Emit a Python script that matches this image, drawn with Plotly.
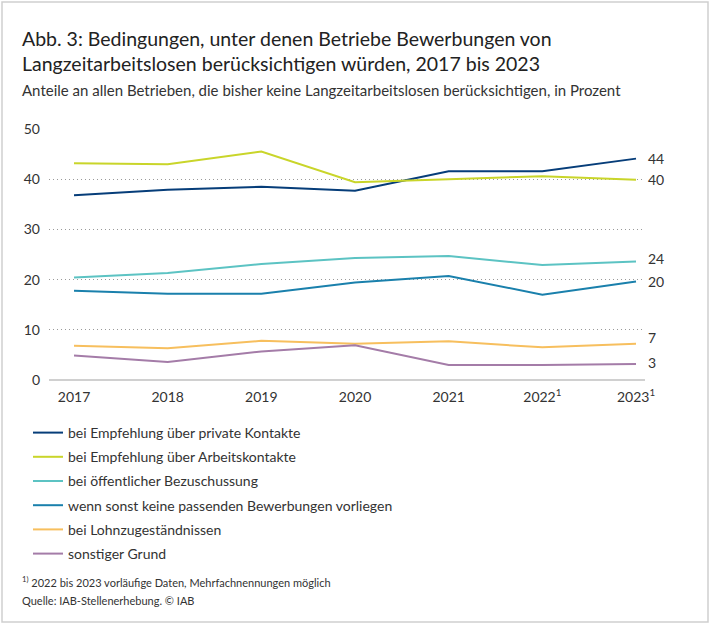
import plotly.graph_objects as go

years = ['2017', '2018', '2019', '2020', '2021', '2022', '2023']
year_labels = ['2017', '2018', '2019', '2020', '2021', '2022<sup>1</sup>', '2023<sup>1</sup>']

series_names = [
    'bei Empfehlung über private Kontakte',
    'bei Empfehlung über Arbeitskontakte',
    'bei öffentlicher Bezuschussung',
    'wenn sonst keine passenden Bewerbungen vorliegen',
    'bei Lohnzugeständnissen',
    'sonstiger Grund',
]
private_kontakte = [36.8, 37.9, 38.5, 37.7, 41.6, 41.6, 44.1]
arbeitskontakte = [43.2, 43.0, 45.5, 39.4, 40.0, 40.6, 39.9]
bezuschussung = [20.4, 21.3, 23.1, 24.3, 24.7, 22.9, 23.6]
keine_bewerbungen = [17.8, 17.2, 17.2, 19.4, 20.7, 17.0, 19.6]
lohn = [6.8, 6.3, 7.8, 7.2, 7.7, 6.5, 7.2]
sonstiger = [4.9, 3.6, 5.7, 6.9, 3.0, 3.0, 3.2]

all_series = [private_kontakte, arbeitskontakte, bezuschussung, keine_bewerbungen, lohn, sonstiger]
colors = ['#063d79', '#c9d52a', '#5cc3c3', '#1a80ac', '#f7bf5e', '#a47ca8']
# small pixel nudges for end labels so they don't collide
label_shift = [0, 0, 3, 0, 6, 1]

FONT = 'Lato, "Source Sans Pro", "Noto Sans", sans-serif'
TXT = '#333333'

W, H = 710, 625
L, R, T, B = 49, 645, 129, 380


def px_x(p):
    return (p - L) / (R - L)


def px_y(p):
    return (B - p) / (B - T)


fig = go.Figure()
for i, (name, vals) in enumerate(zip(series_names, all_series)):
    fig.add_trace(go.Scatter(
        x=years, y=vals, name=name, mode='lines',
        line=dict(color=colors[i], width=2),
        legendgroup='g%d' % i,
        hoverinfo='x+y+name'))
    # end-of-line value label (category index of last year)
    fig.add_annotation(
        x=len(years) - 1, y=vals[-1], xref='x', yref='y',
        text='%.0f' % vals[-1], showarrow=False,
        xanchor='left', xshift=10, yshift=label_shift[i],
        font=dict(family=FONT, size=14, color=TXT))

# titles
fig.add_annotation(x=px_x(20), y=px_y(25), xref='paper', yref='paper',
                   xanchor='left', yanchor='top', align='left', showarrow=False,
                   text='Abb. 3: Bedingungen, unter denen Betriebe Bewerbungen von<br>'
                        'Langzeitarbeitslosen berücksichtigen würden, 2017 bis 2023',
                   font=dict(family=FONT, size=19.5, color='#222222'))
fig.add_annotation(x=px_x(20), y=px_y(90), xref='paper', yref='paper',
                   xanchor='left', yanchor='middle', showarrow=False,
                   text='Anteile an allen Betrieben, die bisher keine Langzeitarbeitslosen berücksichtigen, in Prozent',
                   font=dict(family=FONT, size=15, color=TXT))
# footnotes
fig.add_annotation(x=px_x(20), y=px_y(581), xref='paper', yref='paper',
                   xanchor='left', yanchor='middle', showarrow=False,
                   text='<sup>1)</sup> 2022 bis 2023 vorläufige Daten, Mehrfachnennungen möglich',
                   font=dict(family=FONT, size=11, color=TXT))
fig.add_annotation(x=px_x(20), y=px_y(600), xref='paper', yref='paper',
                   xanchor='left', yanchor='middle', showarrow=False,
                   text='Quelle: IAB-Stellenerhebung. © IAB',
                   font=dict(family=FONT, size=11, color=TXT))

# outer frame
fig.add_shape(type='rect', xref='paper', yref='paper',
              x0=px_x(2), x1=px_x(708), y0=px_y(2), y1=px_y(622),
              line=dict(color='#cfcfcf', width=1.5))

fig.update_layout(
    width=W, height=H,
    margin=dict(l=L, r=W - R, t=T, b=H - B),
    plot_bgcolor='white', paper_bgcolor='white',
    font=dict(family=FONT, color=TXT),
    showlegend=True,
    legend=dict(x=px_x(28), y=px_y(417), xanchor='left', yanchor='top',
                font=dict(family=FONT, size=14, color=TXT),
                tracegroupgap=3, bgcolor='rgba(0,0,0,0)'),
)
fig.update_xaxes(
    type='category', range=[-0.267, 6.096],
    tickvals=years, ticktext=year_labels,
    showgrid=False, showline=False, ticks='', ticklabelstandoff=7,
    tickfont=dict(family=FONT, size=14, color=TXT),
)
fig.update_yaxes(
    range=[0, 50], tickvals=[0, 10, 20, 30, 40, 50],
    showgrid=True, gridcolor='#999999', griddash='1px,3px', gridwidth=1,
    zeroline=True, zerolinecolor='#d0d0d0', zerolinewidth=1.5,
    showline=False, ticks='', ticklabelstandoff=8,
    tickfont=dict(family=FONT, size=14, color=TXT),
)

# page body has a default 8px margin; drop it so the chart sits at the window corner
fig.write_html('out.html', config={'displayModeBar': False},
               post_script="document.body.style.margin='0';")
